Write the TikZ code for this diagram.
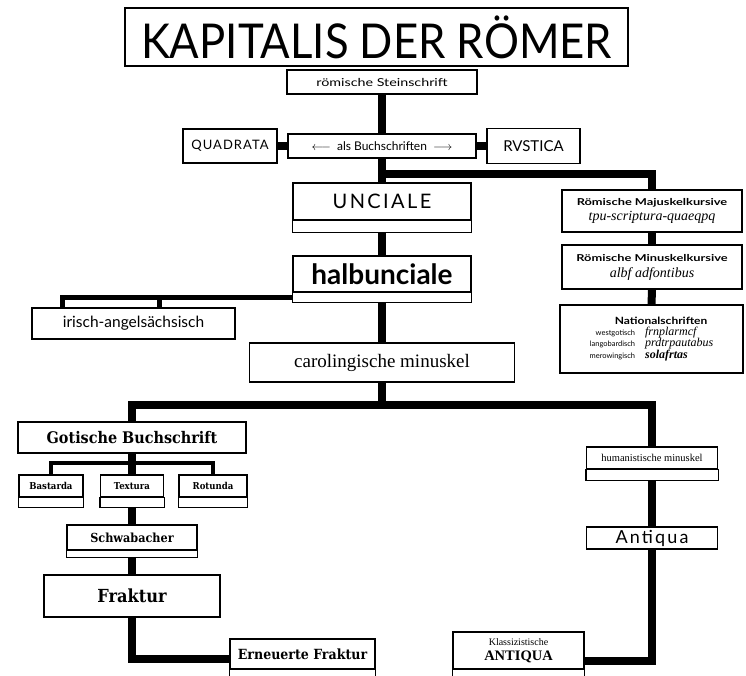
\documentclass[tikz,border=0pt]{standalone}
\usepackage{fontspec}
\setmainfont{Lato}
\newfontfamily\serf{Liberation Serif}
\newfontfamily\blackl{DejaVu Serif Condensed}
\newcommand\gothtxt[1]{{\blackl\bfseries #1}}
\usetikzlibrary{backgrounds}
\newcommand\boxstrip[2]{\filldraw[fill=white,line width=1.3pt] (#1.south west) rectangle ([yshift=-#2pt]#1.south east);}
\begin{document}
\begin{tikzpicture}[x=1pt,y=-1pt,
  box/.style={draw,line width=1.3pt,fill=white,inner sep=0pt,align=center},
  conn/.style={line width=8pt},
  conn2/.style={line width=4.5pt}]
\useasboundingbox (0,0) rectangle (746,676);
% nodes
\node[box,line width=2.5pt,minimum width=503pt,minimum height=58pt,font=\fontsize{48}{48}\selectfont] (title) at (376.5,37) {\scalebox{0.91}[1]{KAPITALIS DER RÖMER}};
\node[box,minimum width=190pt,minimum height=24pt,font=\fontsize{11}{12}\selectfont] (stein) at (382,82) {\scalebox{1.3}[1]{römische Steinschrift}};
\node[box,minimum width=94pt,minimum height=34pt,font=\fontsize{13}{14}\selectfont\addfontfeature{LetterSpace=8}] (quad) at (230,146) {QUADRATA};
\node[box,minimum width=188pt,minimum height=24pt,font=\fontsize{12}{13}\selectfont] (buch) at (382,146) {$\longleftarrow$\ \ als Buchschriften\ \ $\longrightarrow$};
\node[box,minimum width=93pt,minimum height=35pt,font=\fontsize{15}{16}\selectfont] (rust) at (533.5,146) {RVSTICA};
\node[box,minimum width=178pt,minimum height=37pt,font=\fontsize{20}{22}\selectfont\addfontfeature{LetterSpace=12}] (unc) at (382,201.5) {UNCIALE};
\node[box,minimum width=178pt,minimum height=36pt,font=\fontsize{28}{29}\selectfont\bfseries] (halb) at (382,274) {halbunciale};
\node[box,minimum width=203pt,minimum height=31pt,font=\fontsize{15.5}{17}\selectfont] (iri) at (133.5,323.5) {irisch-angelsächsisch};
\node[box,minimum width=265pt,minimum height=39pt,font=\fontsize{19}{20}\serf] (caro) at (382,362.5) {carolingische minuskel};
\node[box,minimum width=180pt,minimum height=42pt,font=\fontsize{14}{15}\selectfont] (maj) at (652,211) {{\fontsize{9.5}{10}\selectfont\bfseries\scalebox{1.35}[1]{Römische Majuskelkursive}}\\[0pt]{\serf\itshape tpu-scriptura-quaeqpq}};
\node[box,minimum width=180pt,minimum height=44pt,font=\fontsize{14}{15}\selectfont] (min) at (652,267) {{\fontsize{9.5}{10}\selectfont\bfseries\scalebox{1.35}[1]{Römische Minuskelkursive}}\\[1pt]{\serf\itshape albf adfontibus}};
\node[box,minimum width=183pt,minimum height=68pt,font=\fontsize{7.5}{9}\selectfont] (nat) at (651.5,339) {\renewcommand\arraystretch{1.05}\begin{tabular}{@{}r@{\hspace{10pt}}l@{}}\multicolumn{2}{r}{\fontsize{10}{12}\selectfont\bfseries\scalebox{1.2}[1]{Nationalschriften}}\\ westgotisch & {\fontsize{12}{12}\serf\itshape frnplarmcf}\\ langobardisch & {\fontsize{12}{12}\serf\itshape prdtrpautabus}\\ merowingisch & {\fontsize{12}{12}\serf\itshape\bfseries solafrtas}\end{tabular}};
\node[box,minimum width=228pt,minimum height=31pt,font=\fontsize{16}{17}\selectfont] (got) at (132,437.5) {\gothtxt{Gotische Buchschrift}};
\node[box,minimum width=64pt,minimum height=22pt,font=\fontsize{9.5}{11}\selectfont] (bast) at (51,486) {\gothtxt{Bastarda}};
\node[box,minimum width=63pt,minimum height=22pt,font=\fontsize{9.5}{11}\selectfont] (text) at (132,486) {\gothtxt{Textura}};
\node[box,minimum width=68pt,minimum height=22pt,font=\fontsize{9.5}{11}\selectfont] (rot) at (213,486) {\gothtxt{Rotunda}};
\node[box,minimum width=130pt,minimum height=25pt,font=\fontsize{12.5}{13}\selectfont] (schw) at (132,537.5) {\gothtxt{Schwabacher}};
\node[box,minimum width=176pt,minimum height=42pt,font=\fontsize{18}{20}\selectfont] (frak) at (132,596) {\gothtxt{Fraktur}};
\node[box,minimum width=145pt,minimum height=30pt,font=\fontsize{14}{15}\selectfont] (ern) at (302.5,654) {\gothtxt{Erneuerte Fraktur}};
\node[box,minimum width=131pt,minimum height=22pt,font=\fontsize{10.5}{11}\serf] (hum) at (652,458) {humanistische minuskel};
\node[box,minimum width=131pt,minimum height=22pt,font=\fontsize{18}{19}\selectfont\addfontfeature{LetterSpace=12}] (anti) at (652,538) {Antiqua};
\node[box,minimum width=131pt,minimum height=37pt,font=\fontsize{10}{15}\serf] (klass) at (518.5,650.5) {Klassizistische\\{\fontsize{14.5}{14}\selectfont\bfseries ANTIQUA}};
% strips
\boxstrip{unc}{12}
\boxstrip{halb}{10}
\boxstrip{bast}{10}
\boxstrip{text}{10}
\boxstrip{rot}{10}
\boxstrip{schw}{7}
\boxstrip{ern}{14}
\boxstrip{hum}{11}
\boxstrip{klass}{14}
% connectors
\coordinate (jm) at (382,174);
\coordinate (jc) at (382,405);
\coordinate (ji) at (63,297);
\coordinate (jg) at (132,463);
\begin{pgfonlayer}{background}
\draw[conn] (stein.south) -- (unc.north);
\draw[conn] (jm) -| (maj.north);
\draw[conn] (quad.east) -- (buch.west);
\draw[conn] (buch.east) -- (rust.west);
\draw[conn] (maj.south) -- (min.north);
\draw[conn] (min.south) -- (nat.north);
\draw[conn] (unc.south) -- (halb.north);
\draw[conn] (halb.south) -- (caro.north);
\draw[conn2] ([yshift=-5pt]halb.south west) -| ([xshift=31pt]iri.north west);
\draw[conn2] ([xshift=128pt]iri.north west) -- ([xshift=128pt]iri.north west |- ji);
\draw[conn] (caro.south) -- (jc);
\draw[conn] (got.north) |- (jc) -| (hum.north);
\draw[conn] (got.south) -- (text.north);
\draw[conn2] (bast.north) |- (jg) -| (rot.north);
\draw[conn] (text.south) -- (schw.north);
\draw[conn] (schw.south) -- (frak.north);
\draw[conn] (frak.south) |- ([yshift=-5pt]ern.west);
\draw[conn] (hum.south) -- (anti.north);
\draw[conn] (anti.south) |- ([yshift=-10pt]klass.east);
\end{pgfonlayer}
\end{tikzpicture}
\end{document}
